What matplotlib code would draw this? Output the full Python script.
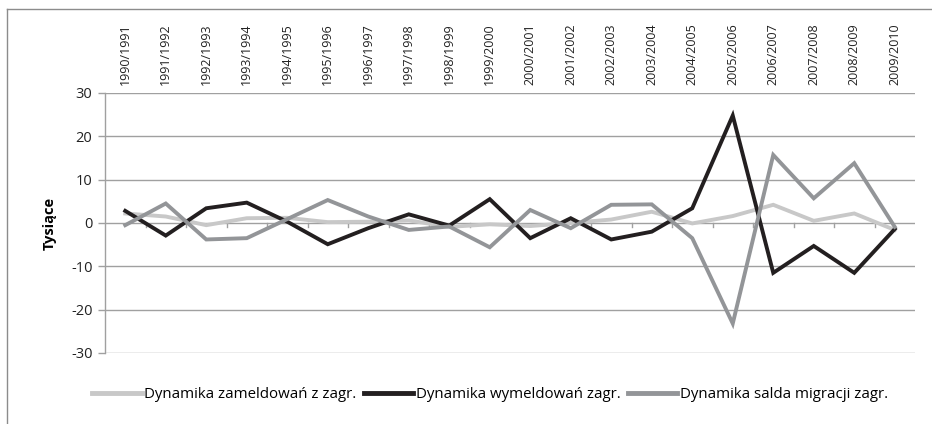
import matplotlib
matplotlib.use("Agg")
import matplotlib.pyplot as plt
from matplotlib.lines import Line2D

plt.rcParams['font.family'] = ['Open Sans', 'DejaVu Sans']

categories = ["1990/1991", "1991/1992", "1992/1993", "1993/1994", "1994/1995",
              "1995/1996", "1996/1997", "1997/1998", "1998/1999", "1999/2000",
              "2000/2001", "2001/2002", "2002/2003", "2003/2004", "2004/2005",
              "2005/2006", "2006/2007", "2007/2008", "2008/2009", "2009/2010"]

zameldowania = [2.2, 1.5, -0.5, 1.1, 1.2, 0.2, 0.3, 0.6, -0.9, -0.3,
                -0.7, 0.0, 0.8, 2.6, -0.1, 1.6, 4.2, 0.5, 2.2, -1.6]
wymeldowania = [2.8, -2.9, 3.4, 4.7, 0.3, -4.9, -1.2, 2.0, -0.6, 5.5,
                -3.5, 1.1, -3.8, -2.0, 3.4, 24.8, -11.5, -5.3, -11.5, -1.4]
saldo = [-0.5, 4.5, -3.8, -3.5, 0.9, 5.3, 1.5, -1.6, -0.8, -5.6,
         3.0, -1.2, 4.2, 4.3, -3.5, -23.2, 15.7, 5.7, 13.8, -0.9]

series_labels = ["Dynamika zameldowań z zagr.", "Dynamika wymeldowań zagr.",
                 "Dynamika salda migracji zagr."]
colors = ["#C8C8C8", "#231F20", "#939598"]
y_ticks = [-30, -20, -10, 0, 10, 20, 30]

W, H = 932, 424
fig = plt.figure(figsize=(W / 100, H / 100), dpi=100)

# outer border
border = dict(color="#8C8C8C", lw=1.0)
fig.add_artist(Line2D([7 / W, 1.0], [1 - 9 / H, 1 - 9 / H], transform=fig.transFigure, **border))
fig.add_artist(Line2D([7 / W, 7 / W], [0.0, 1 - 9 / H], transform=fig.transFigure, **border))

ax = fig.add_axes([105 / W, (H - 353) / H, 810 / W, 260 / H])
n = len(categories)
x = list(range(n))

grid_color = "#A0A0A0"
for yv in y_ticks:
    ax.axhline(yv, color=grid_color, lw=1.0, zorder=1)

for vals, c, lab in zip([zameldowania, wymeldowania, saldo], colors, series_labels):
    ax.plot(x, vals, color=c, lw=2.8, label=lab, zorder=3, solid_joinstyle="miter")

ax.set_xlim(-0.5, n - 0.5)
ax.set_ylim(-30, 30)
ax.set_yticks(y_ticks)
ax.set_yticklabels([str(v) for v in y_ticks], fontsize=10.5, color="#222222")
ax.tick_params(axis="y", length=5, color=grid_color, width=1.0, pad=4)

# category axis tick marks at zero line
for b in range(1, n):
    ax.plot([b - 0.5, b - 0.5], [0, -1.0], color=grid_color, lw=1.0, zorder=2)

ax.set_xticks([])
for i, lab in enumerate(categories):
    ax.text(i, 31.8, lab, rotation=90, ha="center", va="bottom", fontsize=9,
            color="#222222", transform=ax.transData, clip_on=False)

for s in ["top", "right", "bottom"]:
    ax.spines[s].set_visible(False)
ax.spines["left"].set_color(grid_color)
ax.spines["left"].set_linewidth(1.0)

ax.set_ylabel("Tysiące", fontsize=10.5, fontweight="bold", labelpad=10)

handles = [Line2D([0], [0], color=c, lw=3.5) for c in colors]
fig.legend(handles, series_labels, loc="center", bbox_to_anchor=(490 / W, 1 - 395 / H),
           ncol=3, frameon=False, fontsize=10.8, handlelength=3.3, handletextpad=0.15,
           columnspacing=0.5)

fig.savefig("out.png", dpi=100)
